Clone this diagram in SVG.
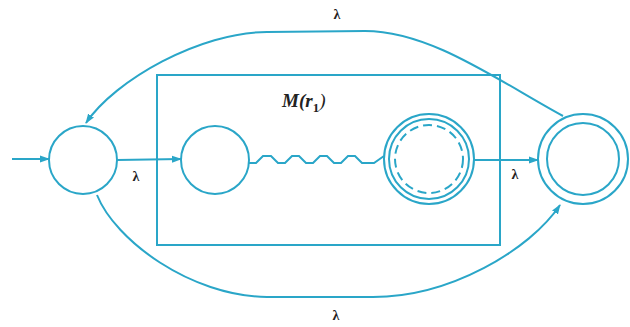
<svg xmlns="http://www.w3.org/2000/svg" width="630" height="327" viewBox="0 0 630 327">
<style>
.s{fill:none;stroke:#2aa6c8;stroke-width:2}
.d{fill:none;stroke:#2aa6c8;stroke-width:2;stroke-dasharray:9 5}
.lam{font-family:"Liberation Serif","DejaVu Serif",serif;font-weight:bold;font-size:14px;fill:#222;text-anchor:middle}
.m{font-family:"Liberation Serif","DejaVu Serif",serif;font-style:italic;font-weight:bold;font-size:19px;fill:#222}
</style>
<defs>
<marker id="ah" markerUnits="userSpaceOnUse" markerWidth="10" markerHeight="8" refX="9" refY="4" orient="auto">
<path d="M0,0.5 L10,4 L0,7.5 z" fill="#2aa6c8"/>
</marker>
</defs>
<rect width="630" height="327" fill="#fff"/>
<g id="box-M">
<rect class="s" x="157" y="75" width="343" height="170"/>
<text class="m" x="282" y="107">M(r<tspan font-size="13" dy="5" font-style="normal">1</tspan><tspan dy="-5" font-weight="normal">)</tspan></text>
</g>
<g id="q0"><circle class="s" cx="83" cy="160" r="34"/></g>
<g id="q1"><circle class="s" cx="215" cy="160" r="34"/></g>
<g id="q2">
<circle class="s" cx="429" cy="159" r="45"/>
<circle class="s" cx="429" cy="159" r="40"/>
<circle class="d" cx="429" cy="159" r="34"/>
</g>
<g id="qf">
<circle class="s" cx="583" cy="159" r="45"/>
<circle class="s" cx="583" cy="159" r="36"/>
</g>
<g id="connectors">
<line class="s" x1="12" y1="159" x2="49" y2="159" marker-end="url(#ah)"/>
<line class="s" x1="117" y1="160" x2="181" y2="159" marker-end="url(#ah)"/>
<line class="s" x1="474" y1="160" x2="538" y2="160" marker-end="url(#ah)"/>
<path class="s" d="M249,163 L256,163 L263,156 L271,156 L278,163 L285,163 L292,156 L299,156 L306,163 L313,163 L320,156 L327,156 L334,163 L341,163 L348,156 L355,156 L362,163 L374,163 L384,156"/>
<path class="s" d="M563,116 C497,80 430,31 365,31 L267,32 C200,32 115,80 86,123" marker-end="url(#ah)"/>
<path class="s" d="M97,195 C115,240 190,296 267,297 L373,297 C450,297 530,250 560,205" marker-end="url(#ah)"/>
<text class="lam" x="337" y="19">λ</text>
<text class="lam" x="336" y="320">λ</text>
<text class="lam" x="136" y="181">λ</text>
<text class="lam" x="515" y="179">λ</text>
</g>
</svg>
